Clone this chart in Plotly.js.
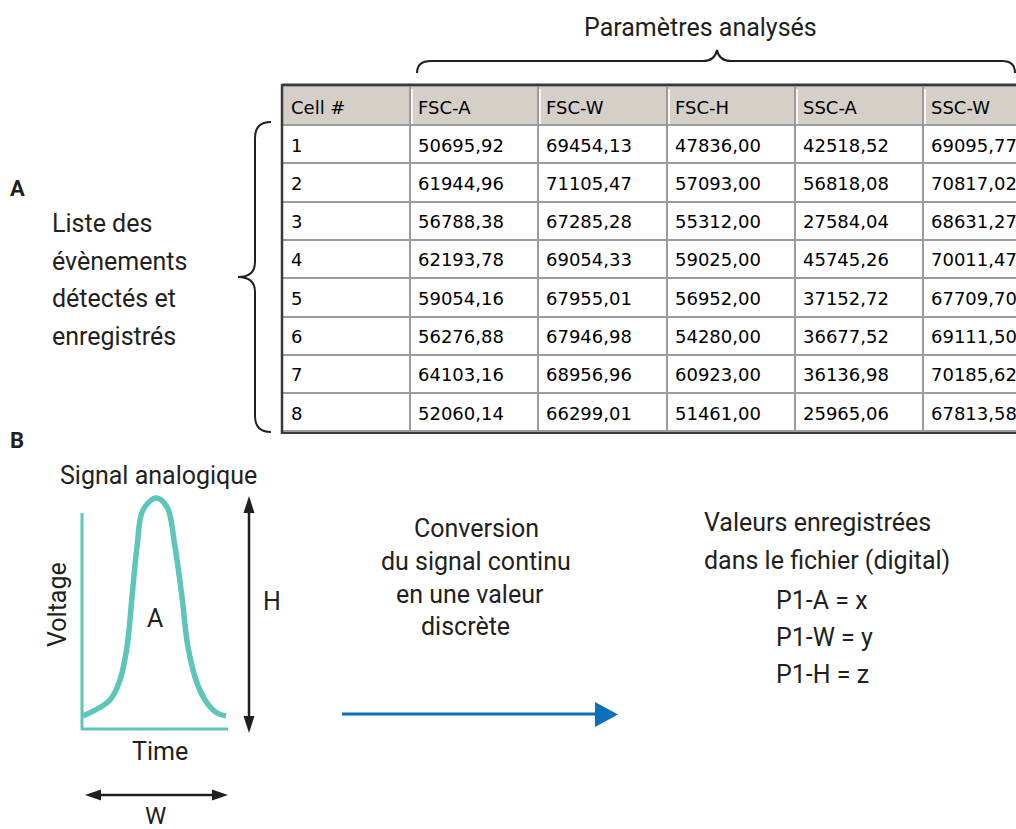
<!DOCTYPE html>
<html>
<head>
<meta charset="utf-8">
<script src="https://cdn.plot.ly/plotly-3.0.1.min.js"></script>
<style>html,body{margin:0;padding:0;background:#fff;}#chart{width:1016px;height:829px;}</style>
</head>
<body>
<div id="chart"></div>
<script>
// ---------- data ----------
var headers = ['Cell #', 'FSC-A', 'FSC-W', 'FSC-H', 'SSC-A', 'SSC-W'];
var cellIds = ['1', '2', '3', '4', '5', '6', '7', '8'];
var fscA = ['50695,92', '61944,96', '56788,38', '62193,78', '59054,16', '56276,88', '64103,16', '52060,14'];
var fscW = ['69454,13', '71105,47', '67285,28', '69054,33', '67955,01', '67946,98', '68956,96', '66299,01'];
var fscH = ['47836,00', '57093,00', '55312,00', '59025,00', '56952,00', '54280,00', '60923,00', '51461,00'];
var sscA = ['42518,52', '56818,08', '27584,04', '45745,26', '37152,72', '36677,52', '36136,98', '25965,06'];
var sscW = ['69095,77', '70817,02', '68631,27', '70011,47', '67709,70', '69111,50', '70185,62', '67813,58'];

// schematic analog signal
var signalX = [83, 110, 120, 127, 132, 137, 143, 156, 167, 175, 182, 188, 197, 207, 217, 226];
var signalY = [716, 700, 680, 647, 597, 547, 510, 498, 507, 547, 597, 647, 683, 703, 713, 716];

var listLines = ['Liste des', 'évènements', 'détectés et', 'enregistrés'];
var convLines = ['Conversion', 'du signal continu', 'en une valeur', 'discrète'];
var valLines = ['Valeurs enregistrées', 'dans le fichier (digital)'];
var paramLines = ['P1-A = x', 'P1-W = y', 'P1-H = z'];

// ---------- style / layout constants ----------
var W = 1016, H = 829;
var FONT = 'Roboto, "Liberation Sans", sans-serif';
var TABFONT = '"DejaVu Sans", sans-serif';
var TEXTC = '#231f20';
var TEAL = '#5cc6ba';
var BLUE = '#0b6fba';
var GRID = '#9c9c9c';

var tableLeft = 283, tableTop = 86;
var colWidths = [127, 128, 129, 128, 128, 93];
var headerH = 38, rowH = 38.3, nRows = cellIds.length;
var textShift = 6; // table text sits centred in its cells

var traces = [
  {
    type: 'table',
    domain: {x: [tableLeft / W, 1], y: [0, 1 - (tableTop + textShift) / H]},
    columnwidth: colWidths,
    header: {
      values: headers, align: 'left', height: headerH,
      fill: {color: 'rgba(0,0,0,0)'}, line: {color: 'rgba(0,0,0,0)', width: 0},
      font: {family: TABFONT, size: 18, color: '#000'}
    },
    cells: {
      values: [cellIds, fscA, fscW, fscH, sscA, sscW],
      align: 'left', height: rowH,
      fill: {color: 'rgba(0,0,0,0)'}, line: {color: 'rgba(0,0,0,0)', width: 0},
      font: {family: TABFONT, size: 18, color: '#000'}
    },
    hoverinfo: 'skip'
  },
  {
    type: 'scatter', mode: 'lines',
    x: signalX, y: signalY,
    line: {color: TEAL, width: 5.5, shape: 'spline', smoothing: 1.0},
    hoverinfo: 'skip', showlegend: false
  }
];

function ann(text, x, y, opts) {
  var a = {text: text, x: x, y: y, xref: 'x', yref: 'y', showarrow: false,
           xanchor: 'center', yanchor: 'middle',
           font: {family: FONT, size: 25, color: TEXTC}};
  for (var k in (opts || {})) a[k] = opts[k];
  return a;
}

var annotations = [];
annotations.push(ann('Paramètres analysés', 700, 27));
annotations.push(ann('<b>A</b>', 17, 188, {font: {family: FONT, size: 22, color: TEXTC}}));
annotations.push(ann('<b>B</b>', 17, 440, {font: {family: FONT, size: 22, color: TEXTC}}));
var listY = [223, 261, 298, 336];
listLines.forEach(function (t, i) { annotations.push(ann(t, 50, listY[i], {xanchor: 'left'})); });
annotations.push(ann('Signal analogique', 158, 475));
annotations.push(ann('Voltage', 57, 605, {textangle: -90}));
annotations.push(ann('A', 155, 618));
annotations.push(ann('H', 272, 601));
annotations.push(ann('Time', 160, 751));
annotations.push(ann('W', 155, 816, {font: {family: FONT, size: 24, color: TEXTC}}));
var convX = [476, 476, 470, 465], convY = [528, 561, 594, 626];
convLines.forEach(function (t, i) { annotations.push(ann(t, convX[i], convY[i])); });
var valY = [522, 560];
valLines.forEach(function (t, i) { annotations.push(ann(t, 702, valY[i], {xanchor: 'left'})); });
var parY = [600, 637, 674];
paramLines.forEach(function (t, i) { annotations.push(ann(t, 774, parY[i], {xanchor: 'left'})); });

// ---------- table grid (from the same column / row constants) ----------
var colX = [tableLeft];
colWidths.forEach(function (w, i) { colX.push(colX[i] + w); });
var rowY = [tableTop + 1, tableTop + 1 + headerH];
for (var r = 1; r <= nRows; r++) rowY.push(Math.round(tableTop + 1 + headerH + r * rowH));
var gridBottom = rowY[rowY.length - 1] + 2;

var shapes = [];
shapes.push({type: 'rect', xref: 'x', yref: 'y', layer: 'below', x0: tableLeft, x1: W, y0: rowY[0], y1: rowY[1],
             fillcolor: '#d4d0c8', line: {width: 0}});
rowY.forEach(function (y, i) {
  if (i === 0) return;
  shapes.push({type: 'line', xref: 'x', yref: 'y', x0: tableLeft, x1: W, y0: y, y1: y, line: {color: GRID, width: 2}});
});
colX.forEach(function (x, i) {
  if (i === 0 || x >= W) return;
  shapes.push({type: 'line', xref: 'x', yref: 'y', x0: x, x1: x, y0: rowY[0], y1: gridBottom, line: {color: GRID, width: 2}});
  shapes.push({type: 'line', xref: 'x', yref: 'y', x0: x + 2, x1: x + 2, y0: rowY[0] + 2, y1: rowY[1] - 1, line: {color: '#ffffff', width: 1.5}});
});
// outer dark frame
shapes.push({type: 'line', xref: 'x', yref: 'y', x0: tableLeft - 1, x1: W, y0: tableTop - 1, y1: tableTop - 1, line: {color: '#3a3a3a', width: 3}});
shapes.push({type: 'line', xref: 'x', yref: 'y', x0: tableLeft - 1, x1: tableLeft - 1, y0: tableTop - 2, y1: gridBottom + 1, line: {color: '#3a3a3a', width: 2.5}});
shapes.push({type: 'line', xref: 'x', yref: 'y', x0: tableLeft - 1, x1: W, y0: gridBottom, y1: gridBottom, line: {color: '#3a3a3a', width: 2}});

var blk = {color: TEXTC, width: 2};
shapes = shapes.concat([
  // top brace
  {type: 'path', xref: 'x', yref: 'y', line: blk,
   path: 'M 417 73 Q 417 61 431 61 L 703 61 Q 715 61 717 50 Q 719 61 731 61 L 1002 61 Q 1015 61 1015 73'},
  // left brace
  {type: 'path', xref: 'x', yref: 'y', line: blk,
   path: 'M 271 122 Q 255 122 255 138 L 255 262 Q 255 277 238 277 Q 255 277 255 292 L 255 416 Q 255 432 271 432'},
  // signal axes
  {type: 'line', xref: 'x', yref: 'y', x0: 82, x1: 82, y0: 513, y1: 730, line: {color: TEAL, width: 3}},
  {type: 'line', xref: 'x', yref: 'y', x0: 81, x1: 228, y0: 729, y1: 729, line: {color: TEAL, width: 3}},
  // H arrow
  {type: 'line', xref: 'x', yref: 'y', x0: 249, x1: 249, y0: 506, y1: 723, line: {color: TEXTC, width: 2.5}},
  {type: 'path', xref: 'x', yref: 'y', fillcolor: TEXTC, line: {width: 0}, path: 'M 249 496 L 243.5 513 L 254.5 513 Z'},
  {type: 'path', xref: 'x', yref: 'y', fillcolor: TEXTC, line: {width: 0}, path: 'M 249 733 L 243.5 716 L 254.5 716 Z'},
  // W arrow
  {type: 'line', xref: 'x', yref: 'y', x0: 95, x1: 218, y0: 795, y1: 795, line: {color: TEXTC, width: 2.5}},
  {type: 'path', xref: 'x', yref: 'y', fillcolor: TEXTC, line: {width: 0}, path: 'M 85 795 L 101 789.5 L 101 800.5 Z'},
  {type: 'path', xref: 'x', yref: 'y', fillcolor: TEXTC, line: {width: 0}, path: 'M 228 795 L 212 789.5 L 212 800.5 Z'},
  // blue conversion arrow
  {type: 'line', xref: 'x', yref: 'y', x0: 342, x1: 597, y0: 714, y1: 714, line: {color: BLUE, width: 3}},
  {type: 'path', xref: 'x', yref: 'y', fillcolor: BLUE, line: {width: 0}, path: 'M 595 702 L 618 714.5 L 595 727 Z'}
]);

var layout = {
  width: W, height: H,
  margin: {l: 0, r: 0, t: 0, b: 0, pad: 0},
  paper_bgcolor: '#ffffff', plot_bgcolor: '#ffffff',
  showlegend: false,
  xaxis: {range: [0, W], visible: false, fixedrange: true},
  yaxis: {range: [H, 0], visible: false, fixedrange: true},
  annotations: annotations,
  shapes: shapes
};

Plotly.newPlot('chart', traces, layout, {displayModeBar: false, staticPlot: true});
</script>
</body>
</html>
